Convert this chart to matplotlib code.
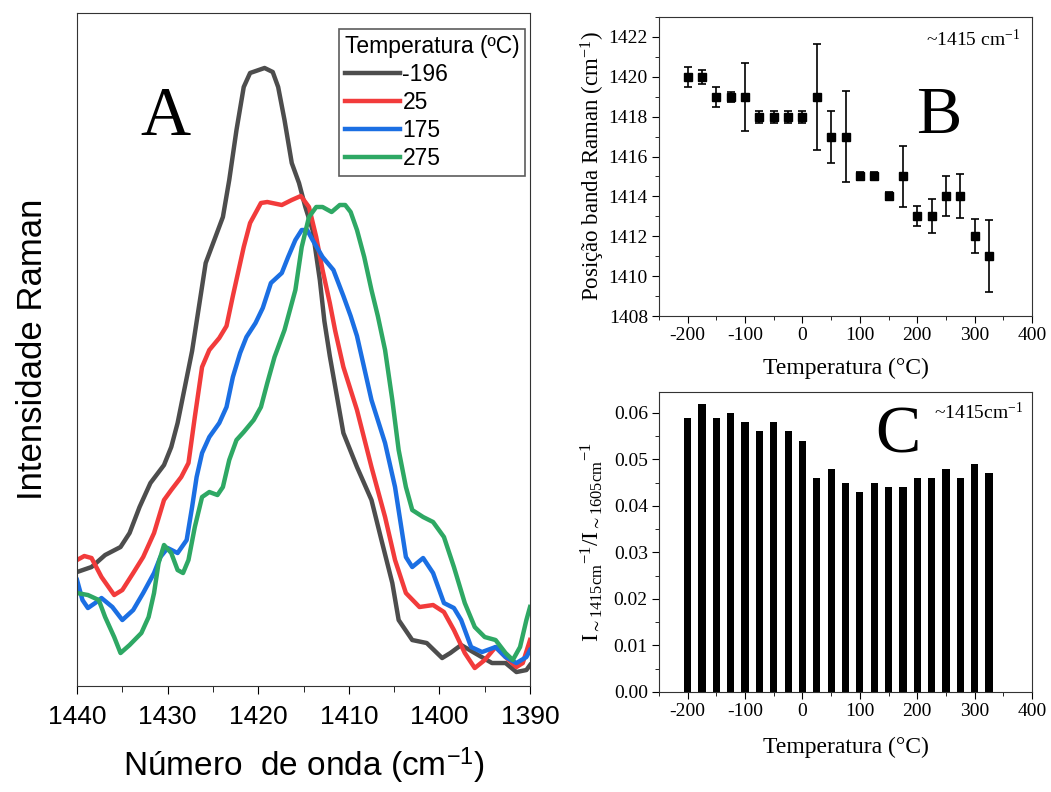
import numpy as np
import matplotlib
matplotlib.use('Agg')
import matplotlib.pyplot as plt
from matplotlib.ticker import MultipleLocator

# Panel A: Raman spectra (wavenumber, intensity in arbitrary units)
wn_m196 = [1440, 1438.4, 1436.9, 1435.2, 1434.2, 1433.1, 1431.9, 1430.4, 1429.6, 1428.9, 1428.1,
           1427.3, 1425.8, 1423.9, 1423.2, 1422.4, 1421.6, 1420.9, 1419.3, 1418.4, 1417.8, 1417.1,
           1416.3, 1415.5, 1414.8, 1414.0, 1413.2, 1412.7, 1412.1, 1410.6, 1409.1, 1407.5, 1406.4,
           1405.2, 1404.5, 1403.0, 1401.4, 1399.7, 1398.8, 1397.6, 1396.1, 1394.2, 1392.7, 1391.5,
           1390.4, 1390.0]
int_m196 = [11.4, 11.9, 13.1, 13.9, 15.3, 17.9, 20.3, 22.1, 23.9, 26.3, 29.9,
            33.5, 42.3, 46.9, 50.6, 55.6, 59.9, 61.3, 61.8, 61.4, 59.9, 56.6,
            52.3, 50.3, 47.9, 45.6, 40.6, 36.5, 33.0, 25.3, 21.9, 18.6, 14.6,
            10.3, 6.6, 4.6, 4.3, 2.8, 3.3, 4.1, 3.3, 2.3, 2.3, 1.4,
            1.6, 2.1]

wn_25 = [1440, 1439.2, 1438.4, 1437.3, 1435.9, 1435.0, 1433.8, 1432.7, 1431.5, 1430.4, 1429.6,
         1428.5, 1427.7, 1427.0, 1426.2, 1425.4, 1424.3, 1423.5, 1422.8, 1421.6, 1420.9, 1419.7,
         1419.0, 1417.4, 1416.3, 1415.3, 1414.4, 1413.6, 1412.9, 1412.1, 1411.5, 1410.6, 1409.1,
         1407.5, 1406.0, 1404.9, 1403.7, 1402.2, 1400.7, 1399.5, 1398.4, 1397.2, 1396.1, 1395.0,
         1393.8, 1392.7, 1391.5, 1390.8, 1390.0]
int_25 = [12.6, 13.0, 12.8, 10.9, 9.1, 9.6, 11.3, 12.9, 15.3, 18.6, 19.6,
          20.9, 22.3, 26.9, 31.9, 33.6, 34.8, 36.0, 39.0, 43.9, 46.3, 48.3,
          48.4, 48.1, 48.6, 49.0, 47.9, 44.9, 41.6, 38.3, 35.5, 31.9, 27.6,
          21.9, 16.9, 12.6, 9.3, 7.9, 8.1, 7.4, 5.6, 3.3, 1.8, 2.6,
          3.9, 2.9, 1.9, 2.3, 4.6]

wn_175 = [1440, 1439.4, 1438.8, 1438.0, 1437.3, 1436.1, 1435.0, 1433.8, 1432.7, 1431.5, 1430.8,
          1430.0, 1428.9, 1427.9, 1427.3, 1426.8, 1426.2, 1425.4, 1424.3, 1423.5, 1422.8, 1422.0,
          1421.3, 1420.3, 1419.5, 1418.6, 1417.4, 1416.7, 1415.9, 1415.2, 1414.6, 1414.0, 1412.9,
          1411.7, 1410.6, 1409.8, 1409.1, 1407.5, 1406.0, 1404.9, 1403.7, 1403.0, 1401.8, 1400.7,
          1399.5, 1398.4, 1397.6, 1396.5, 1395.3, 1393.8, 1392.7, 1391.5, 1390.4, 1390.0]
int_175 = [10.6, 8.6, 7.8, 8.3, 8.8, 7.9, 6.6, 7.6, 9.3, 11.3, 12.9,
           13.8, 13.3, 14.6, 17.9, 20.9, 23.3, 24.9, 26.3, 27.9, 30.9, 33.3,
           34.9, 36.3, 37.8, 40.3, 41.3, 42.9, 44.6, 45.6, 45.6, 44.6, 42.9,
           41.6, 39.0, 37.0, 35.0, 28.6, 24.3, 19.9, 12.9, 11.9, 12.8, 11.3,
           8.3, 7.8, 6.6, 3.9, 3.4, 3.9, 2.9, 2.3, 2.9, 3.6]

wn_275 = [1440, 1438.8, 1437.6, 1436.9, 1435.9, 1435.2, 1434.2, 1432.9, 1432.1, 1431.5, 1431.0,
          1430.4, 1429.6, 1428.9, 1428.3, 1427.7, 1427.0, 1426.2, 1425.4, 1424.5, 1423.9, 1423.2,
          1422.4, 1421.6, 1420.5, 1419.7, 1419.0, 1418.2, 1417.1, 1415.9, 1415.2, 1414.4, 1413.6,
          1412.9, 1411.9, 1411.0, 1410.4, 1409.8, 1409.1, 1408.3, 1407.5, 1406.8, 1406.0, 1405.2,
          1404.5, 1403.7, 1403.0, 1401.8, 1400.7, 1399.5, 1398.4, 1397.2, 1396.1, 1395.0, 1393.8,
          1392.7, 1391.9, 1391.1, 1390.4, 1390.0]
int_275 = [9.3, 9.1, 8.6, 6.9, 4.9, 3.3, 4.1, 5.3, 6.9, 9.3, 12.3,
           14.1, 13.3, 11.6, 11.3, 12.6, 15.9, 18.9, 19.4, 19.1, 19.9, 22.6,
           24.6, 25.4, 26.6, 27.9, 30.3, 32.9, 35.6, 39.6, 43.9, 46.9, 47.9,
           47.9, 47.4, 48.1, 48.1, 47.4, 45.6, 42.9, 39.6, 37.0, 33.6, 28.6,
           23.6, 19.9, 17.6, 16.9, 16.4, 14.9, 11.9, 8.3, 5.9, 4.9, 4.6,
           3.3, 2.6, 3.9, 6.6, 7.9]

# Panels B and C
temps = [-200, -175, -150, -125, -100, -75, -50, -25, 0, 25, 50, 75,
         100, 125, 150, 175, 200, 225, 250, 275, 300, 325]
band_pos = [1420, 1420, 1419, 1419, 1419, 1418, 1418, 1418, 1418, 1419, 1417, 1417,
            1415, 1415, 1414, 1415, 1413, 1413, 1414, 1414, 1412, 1411]
band_err = [0.5, 0.35, 0.5, 0.25, 1.7, 0.3, 0.3, 0.3, 0.3, 2.65, 1.3, 2.3,
            0.2, 0.2, 0.2, 1.55, 0.5, 0.85, 1.0, 1.1, 0.85, 1.8]
ratio = [0.059, 0.062, 0.059, 0.060, 0.058, 0.056, 0.058, 0.056, 0.054, 0.046, 0.048, 0.045,
         0.043, 0.045, 0.044, 0.044, 0.046, 0.046, 0.048, 0.046, 0.049, 0.047]

sans = 'Liberation Sans'
serif = 'Liberation Serif'
plt.rcParams['axes.unicode_minus'] = False
plt.rcParams['mathtext.fontset'] = 'custom'
plt.rcParams['mathtext.rm'] = serif
plt.rcParams['mathtext.it'] = serif + ':italic'

fig = plt.figure(figsize=(10.51, 7.92), dpi=100)

# ---- Panel A ----
axA = fig.add_axes([0.0733, 0.1338, 0.431, 0.8498])
spectra = [(wn_m196, int_m196, '-196', '#4d4d4d'),
           (wn_25, int_25, '25', '#f23b3b'),
           (wn_175, int_175, '175', '#1b6fe3'),
           (wn_275, int_275, '275', '#2ea864')]
for wn, inten, lab, col in spectra:
    axA.plot(wn, inten, color=col, lw=3.2, label=lab, solid_joinstyle='round')
axA.set_xlim(1440, 1390)
axA.set_ylim(0, 67.3)
axA.set_yticks([])
axA.xaxis.set_major_locator(MultipleLocator(10))
axA.xaxis.set_minor_locator(MultipleLocator(5))
axA.tick_params(axis='x', which='major', direction='out', length=6, labelsize=19, pad=8)
axA.tick_params(axis='x', which='minor', direction='out', length=4)
for lbl in axA.get_xticklabels():
    lbl.set_fontfamily(sans)
for sp in axA.spines.values():
    sp.set_color('#333333')
axA.set_xlabel('Número  de onda (cm$^{\\mathregular{-1}}$)', fontsize=24, family=sans, labelpad=12)
axA.set_ylabel('Intensidade Raman', fontsize=25, family=sans, labelpad=20)
axA.text(0.196, 0.819, 'A', transform=axA.transAxes, fontsize=50, family=serif,
         ha='center', va='baseline')
leg = axA.legend(title='Temperatura (ºC)', loc='upper right', bbox_to_anchor=(0.99, 0.976),
                 prop={'family': sans, 'size': 16.5}, title_fontproperties={'family': sans, 'size': 16.5},
                 frameon=True, fancybox=False, edgecolor='#333333', handlelength=2.4,
                 handletextpad=0.1, labelspacing=0.22, borderpad=0.25, borderaxespad=0)
leg._legend_box.align = 'left'
leg.get_frame().set_linewidth(1.2)

# ---- Panel B ----
axB = fig.add_axes([0.627, 0.601, 0.355, 0.3775])
axB.errorbar(temps, band_pos, yerr=band_err, fmt='s', color='black', ms=6,
             ecolor='black', elinewidth=1.2, capsize=3, capthick=1.2)
axB.set_xlim(-250, 400)
axB.set_ylim(1408, 1423)
axB.xaxis.set_major_locator(MultipleLocator(100))
axB.xaxis.set_minor_locator(MultipleLocator(50))
axB.yaxis.set_major_locator(MultipleLocator(2))
axB.yaxis.set_minor_locator(MultipleLocator(1))
axB.set_xlabel('Temperatura (°C)', fontsize=17, family=serif, labelpad=10)
axB.set_ylabel('Posição banda Raman (cm$^{\\mathregular{-1}}$)', fontsize=16.5, family=serif, labelpad=1)
axB.text(0.751, 0.612, 'B', transform=axB.transAxes, fontsize=49, family=serif,
         ha='center', va='baseline')
axB.text(0.968, 0.903, '~1415 cm$^{\\mathregular{-1}}$', transform=axB.transAxes, fontsize=14,
         family=serif, ha='right', va='baseline')

# ---- Panel C ----
axC = fig.add_axes([0.627, 0.1263, 0.355, 0.3788])
axC.bar(temps, ratio, width=12.5, color='black')
axC.set_xlim(-250, 400)
axC.set_ylim(0, 0.0645)
axC.xaxis.set_major_locator(MultipleLocator(100))
axC.xaxis.set_minor_locator(MultipleLocator(50))
axC.yaxis.set_major_locator(MultipleLocator(0.01))
axC.yaxis.set_minor_locator(MultipleLocator(0.005))
axC.yaxis.set_major_formatter(matplotlib.ticker.FormatStrFormatter('%.2f'))
axC.set_xlabel('Temperatura (°C)', fontsize=17, family=serif, labelpad=12)
axC.set_ylabel('I$_{\\mathregular{\\sim1415cm}}$$^{\\mathregular{-1}}$/I$_{\\mathregular{\\sim1605cm}}$$^{\\mathregular{-1}}$',
               fontsize=17, family=serif, labelpad=6)
axC.text(0.641, 0.797, 'C', transform=axC.transAxes, fontsize=49, family=serif,
         ha='center', va='baseline')
axC.text(0.976, 0.91, '~1415cm$^{\\mathregular{-1}}$', transform=axC.transAxes, fontsize=14,
         family=serif, ha='right', va='baseline')

for ax in (axB, axC):
    ax.tick_params(which='major', direction='out', length=5, labelsize=14, pad=3)
    ax.tick_params(which='minor', direction='out', length=3)
    for lbl in ax.get_xticklabels() + ax.get_yticklabels():
        lbl.set_fontfamily(serif)
    for sp in ax.spines.values():
        sp.set_color('#333333')

fig.savefig('out.png', dpi=100)
